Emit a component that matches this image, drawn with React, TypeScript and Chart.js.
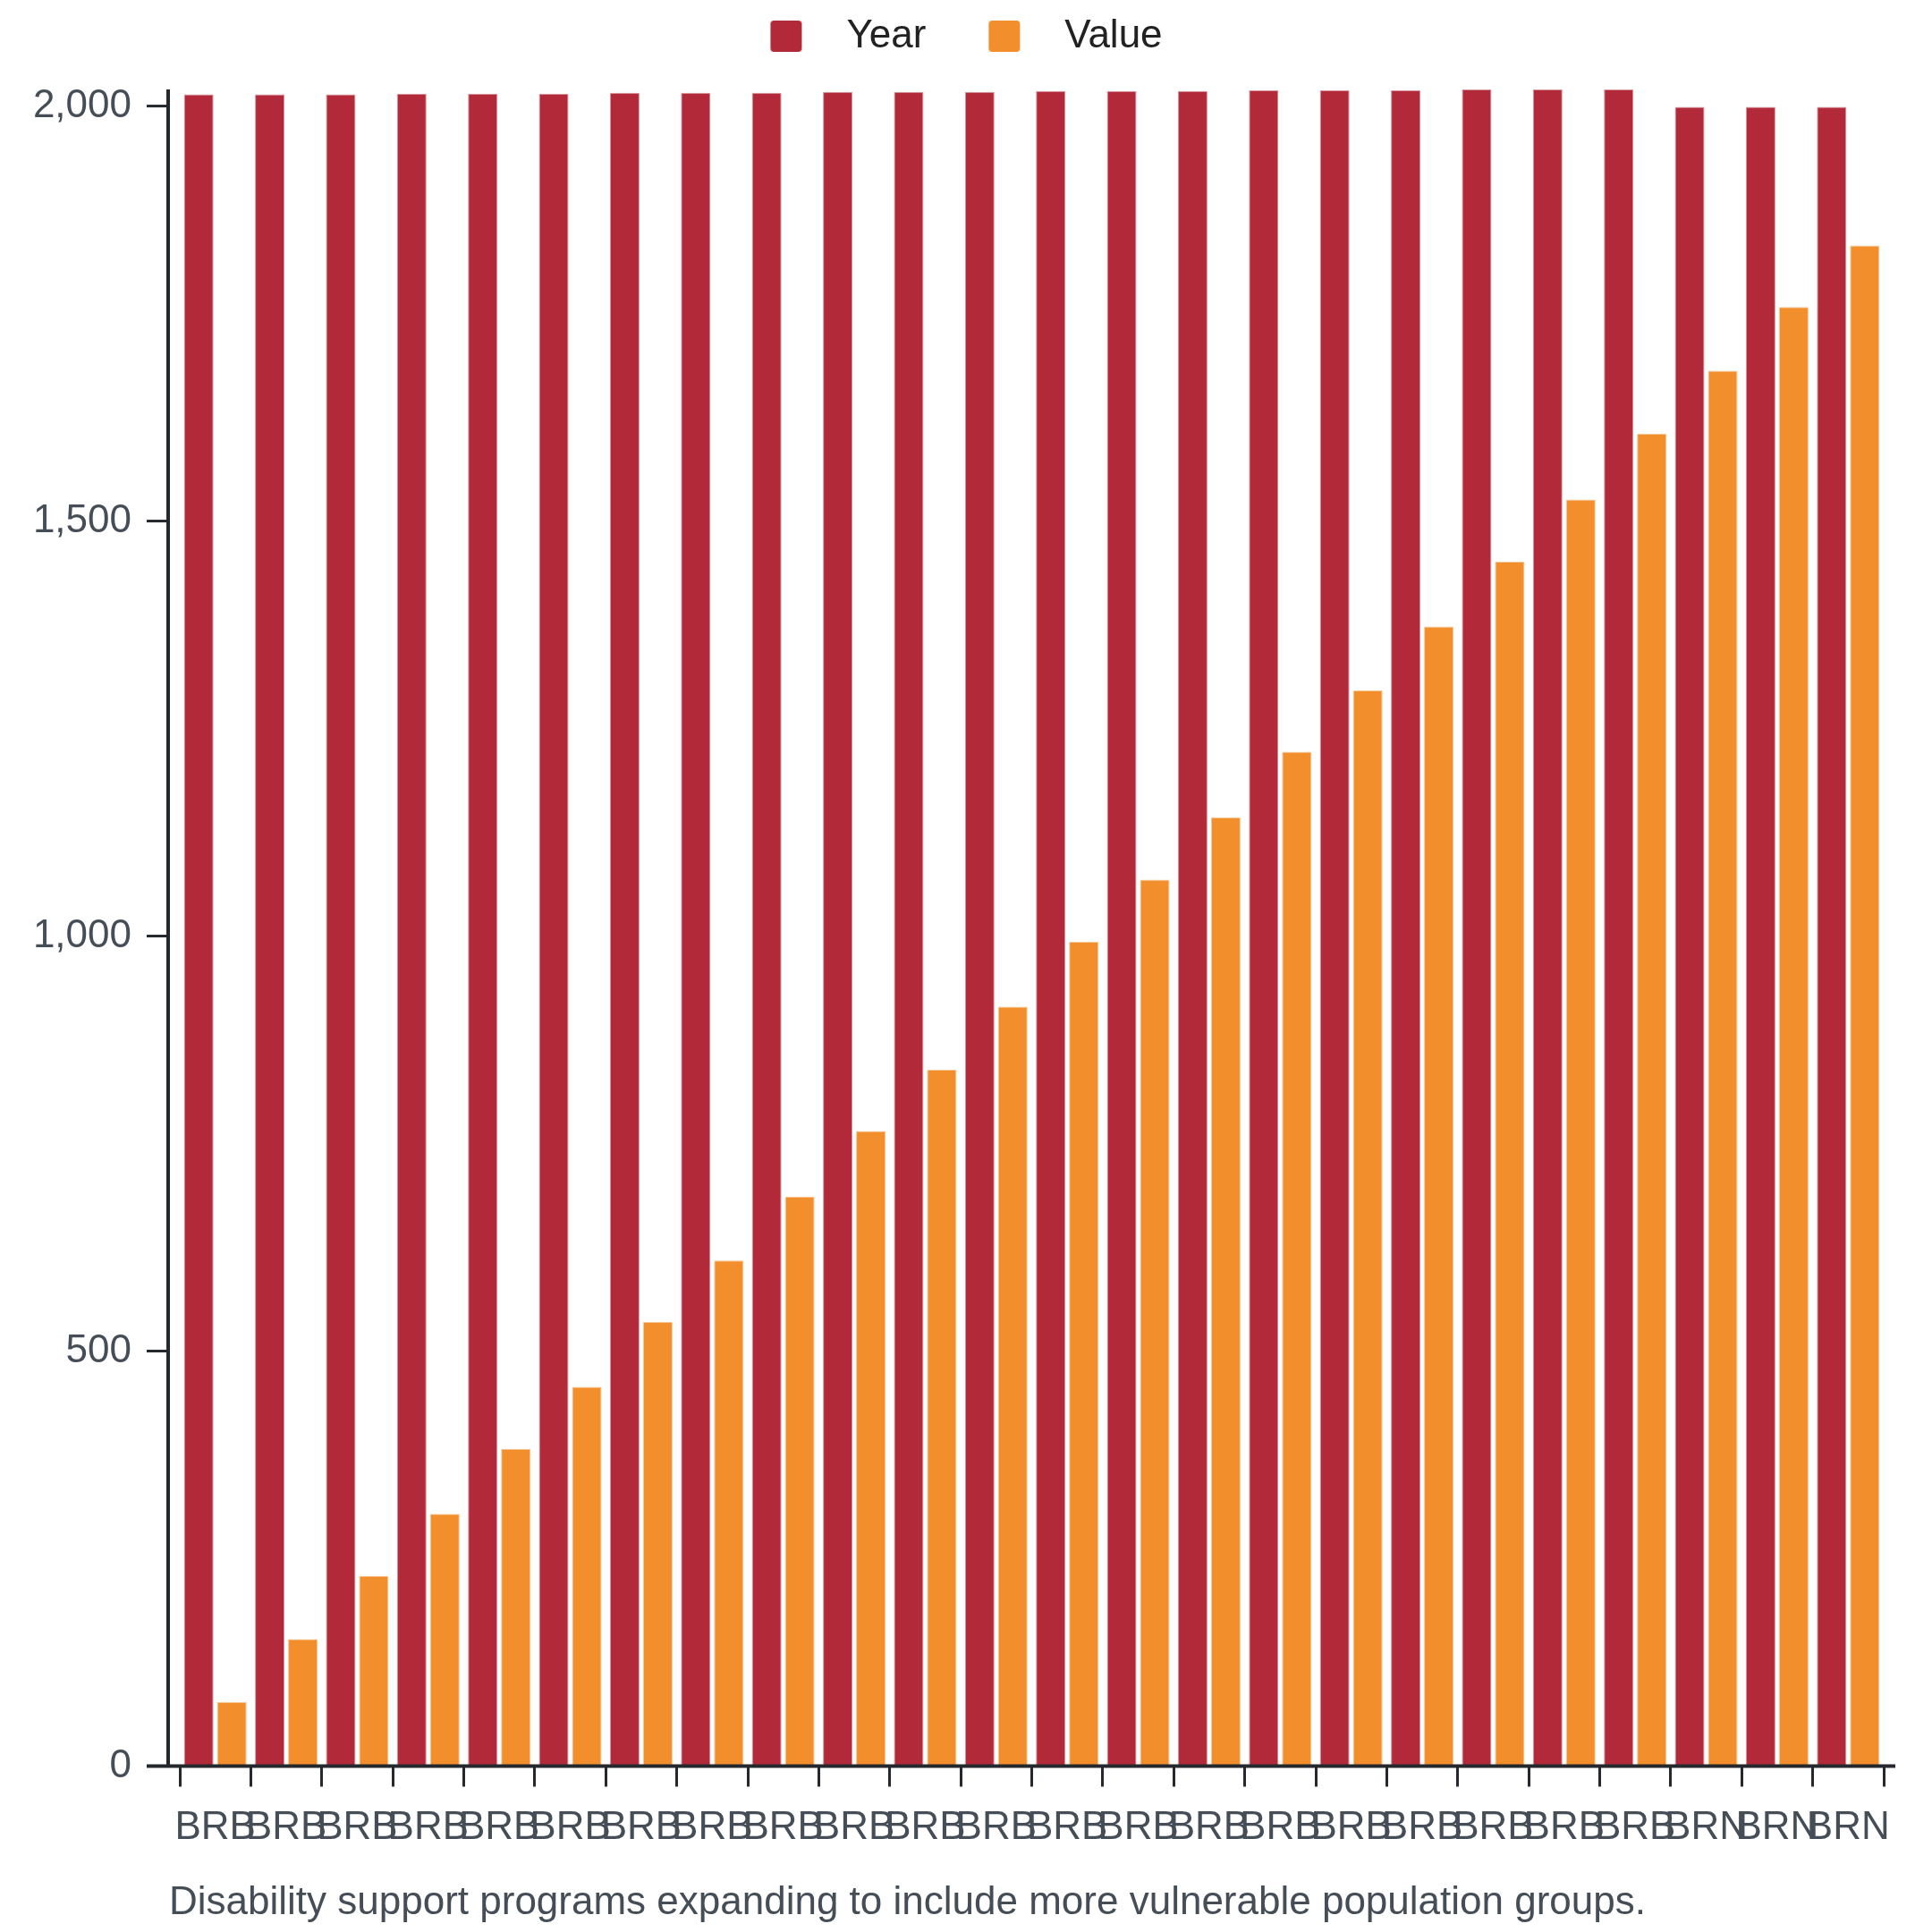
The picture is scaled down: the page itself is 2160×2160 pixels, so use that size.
import React, { useEffect, useRef } from 'react';
import { Chart, registerables } from 'chart.js';

Chart.register(...registerables);

// ---- data ----
const categories = [
  'BRB', 'BRB', 'BRB', 'BRB', 'BRB', 'BRB', 'BRB', 'BRB', 'BRB', 'BRB', 'BRB', 'BRB',
  'BRB', 'BRB', 'BRB', 'BRB', 'BRB', 'BRB', 'BRB', 'BRB', 'BRB', 'BRN', 'BRN', 'BRN',
];
const yearSeries = [
  2014, 2014, 2014, 2015, 2015, 2015, 2016, 2016, 2016, 2017, 2017, 2017,
  2018, 2018, 2018, 2019, 2019, 2019, 2020, 2020, 2020, 1999, 1999, 1999,
];
const valueSeries = [
  77, 153, 229, 304, 382, 457, 535, 609, 686, 765, 839, 915,
  993, 1068, 1143, 1222, 1296, 1373, 1451, 1526, 1605, 1681, 1758, 1832,
];
const seriesNames = ['Year', 'Value'];
const yAxisMax = 2020;
const yTickValues = [0, 500, 1000, 1500, 2000];
const caption = 'Disability support programs expanding to include more vulnerable population groups.';

// ---- styles ----
const FONT = "'Liberation Sans', Arial, Helvetica, sans-serif";
const RED = '#b22a3a';
const ORANGE = '#f28e2b';
const RED_EDGE = 'rgba(178,42,58,0.5)';
const ORANGE_EDGE = 'rgba(242,142,43,0.5)';
const AXIS = '#25282c';
const TICK_TEXT = '#454d56';
const LEGEND_TEXT = '#222222';

function makeSwatch(color: string): HTMLCanvasElement {
  const c = document.createElement('canvas');
  c.width = 118;
  c.height = 35;
  const ctx = c.getContext('2d') as CanvasRenderingContext2D;
  ctx.fillStyle = color;
  ctx.beginPath();
  if ((ctx as any).roundRect) {
    (ctx as any).roundRect(55, 0, 35, 35, 4);
  } else {
    ctx.rect(55, 0, 35, 35);
  }
  ctx.fill();
  return c;
}

const axesPlugin = {
  id: 'customAxes',
  afterDatasetsDraw(chart: any) {
    const { ctx, chartArea, scales } = chart;
    const y = scales.y;
    const ax = chartArea.left - 13;
    ctx.save();
    ctx.strokeStyle = AXIS;
    ctx.lineCap = 'butt';
    ctx.lineWidth = 4;
    ctx.beginPath();
    ctx.moveTo(ax, chartArea.top);
    ctx.lineTo(ax, chartArea.bottom);
    ctx.stroke();
    ctx.beginPath();
    ctx.moveTo(ax - 24, chartArea.bottom);
    ctx.lineTo(chartArea.right + 13, chartArea.bottom);
    ctx.stroke();
    ctx.lineWidth = 3;
    y.ticks.forEach((t: any) => {
      const py = y.getPixelForValue(t.value);
      ctx.beginPath();
      ctx.moveTo(ax - 24, py);
      ctx.lineTo(ax, py);
      ctx.stroke();
    });
    ctx.restore();
  },
  afterDraw(chart: any) {
    const { ctx, chartArea } = chart;
    ctx.save();
    ctx.font = `44px ${FONT}`;
    ctx.fillStyle = TICK_TEXT;
    ctx.textAlign = 'left';
    ctx.textBaseline = 'alphabetic';
    ctx.fillText(caption, chartArea.left - 12, chart.height - 20);
    ctx.restore();
  },
};

export default function App() {
  const canvasRef = useRef<HTMLCanvasElement | null>(null);

  useEffect(() => {
    document.body.style.margin = '0';
    document.body.style.overflow = 'hidden';
    const canvas = canvasRef.current;
    if (!canvas) return;
    const swatches = [makeSwatch(RED), makeSwatch(ORANGE)];

    const chart = new Chart(canvas, {
      type: 'bar',
      data: {
        labels: categories,
        datasets: [
          {
            label: seriesNames[0],
            data: yearSeries,
            backgroundColor: RED,
            borderColor: RED_EDGE,
            borderWidth: 1,
            barPercentage: 0.892,
            categoryPercentage: 0.932,
          },
          {
            label: seriesNames[1],
            data: valueSeries,
            backgroundColor: ORANGE,
            borderColor: ORANGE_EDGE,
            borderWidth: 1,
            barPercentage: 0.892,
            categoryPercentage: 0.932,
          },
        ],
      },
      options: {
        responsive: false,
        animation: false,
        devicePixelRatio: 1,
        layout: { padding: { top: 3.5, left: 0, right: 54, bottom: 69.7 } },
        plugins: {
          legend: {
            display: true,
            position: 'top',
            align: 'center',
            labels: {
              usePointStyle: true,
              pointStyleWidth: 118,
              padding: 15,
              color: LEGEND_TEXT,
              font: { family: FONT, size: 44 },
              generateLabels: (ch: any) => {
                const items = (Chart.defaults as any).plugins.legend.labels.generateLabels(ch);
                items.forEach((it: any, i: number) => {
                  it.pointStyle = swatches[i % swatches.length];
                });
                return items;
              },
            },
          },
          // empty spacer box between legend and plot area
          title: {
            display: true,
            text: ' ',
            position: 'top',
            weight: 500,
            font: { size: 1, lineHeight: 1 },
            padding: { top: 13, bottom: 13.5 },
          },
          tooltip: { enabled: false },
        },
        scales: {
          x: {
            type: 'category',
            offset: true,
            grid: {
              display: true,
              offset: true,
              drawOnChartArea: false,
              drawTicks: true,
              tickLength: 23,
              tickWidth: 3,
              tickColor: AXIS,
            },
            border: { display: false },
            ticks: {
              autoSkip: false,
              maxRotation: 0,
              minRotation: 0,
              padding: 20,
              color: TICK_TEXT,
              font: { family: FONT, size: 44 },
            },
          },
          y: {
            min: 0,
            max: yAxisMax,
            grid: {
              display: true,
              drawOnChartArea: false,
              drawTicks: true,
              tickLength: 37,
              tickColor: 'rgba(0,0,0,0)',
            },
            border: { display: false },
            ticks: {
              padding: 17,
              color: TICK_TEXT,
              font: { family: FONT, size: 44 },
            },
            afterBuildTicks: (s: any) => {
              s.ticks = yTickValues.map((v) => ({ value: v }));
            },
            afterFit: (s: any) => {
              s.width = 201;
            },
          },
        },
      } as any,
      plugins: [axesPlugin],
    });

    return () => {
      chart.destroy();
    };
  }, []);

  return (
    <div style={{ width: 2160, height: 2160, background: '#ffffff' }}>
      <canvas ref={canvasRef} width={2160} height={2160} style={{ display: 'block' }} />
    </div>
  );
}
